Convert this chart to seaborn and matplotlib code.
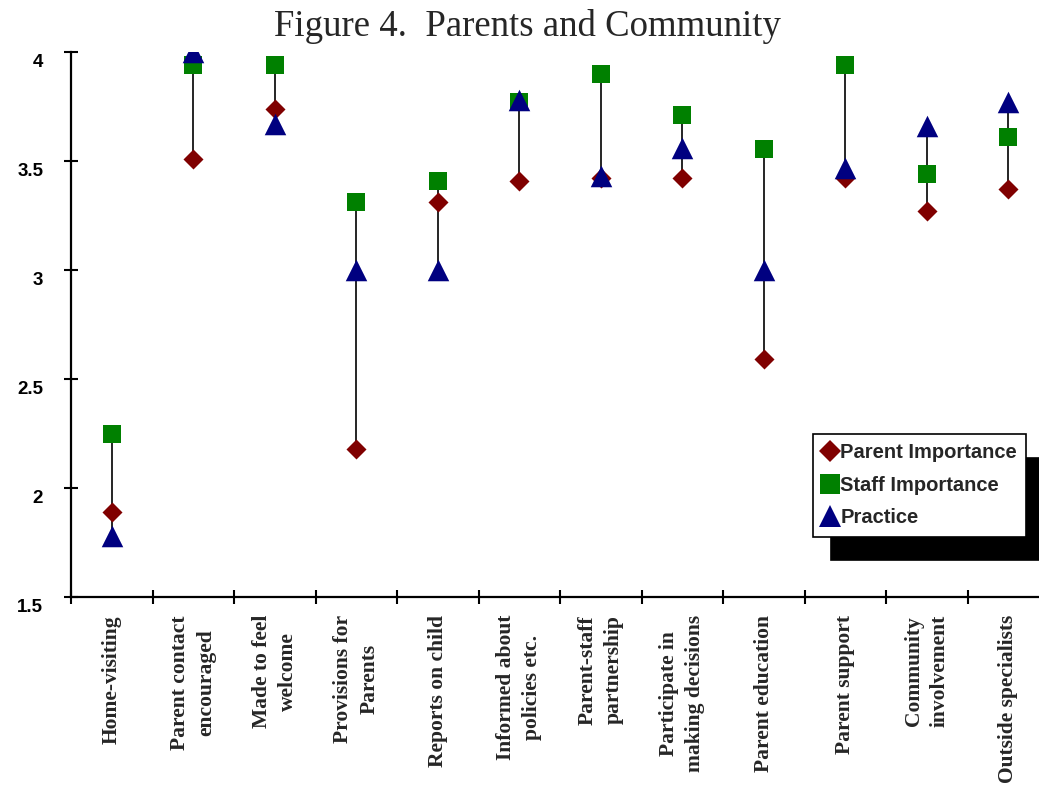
import matplotlib
matplotlib.use("Agg")
import matplotlib.pyplot as plt
from matplotlib.transforms import ScaledTranslation
import numpy as np
import pandas as pd
import seaborn as sns

categories = [
    "Home-visiting",
    "Parent contact\nencouraged",
    "Made to feel\nwelcome",
    "Provisions for\nParents",
    "Reports on child",
    "Informed about\npolicies etc.",
    "Parent-staff\npartnership",
    "Participate in\nmaking decisions",
    "Parent education",
    "Parent support",
    "Community\ninvolvement",
    "Outside specialists",
]
parent_importance = [1.89, 3.51, 3.74, 2.18, 3.31, 3.41, 3.42, 3.42, 2.59, 3.42, 3.27, 3.37]
staff_importance = [2.25, 3.94, 3.94, 3.31, 3.41, 3.77, 3.90, 3.71, 3.555, 3.94, 3.44, 3.61]
practice = [1.78, 4.00, 3.67, 3.00, 3.00, 3.78, 3.43, 3.56, 3.00, 3.47, 3.66, 3.77]
series_names = ["Parent Importance", "Staff Importance", "Practice"]
yticks = [1.5, 2, 2.5, 3, 3.5, 4]

sns.set_style("white")
plt.rcParams["font.family"] = ["Liberation Sans", "DejaVu Sans"]
SERIF = ["Liberation Serif", "DejaVu Serif"]

df = pd.DataFrame({
    "pos": np.arange(len(categories)),
    series_names[0]: parent_importance,
    series_names[1]: staff_importance,
    series_names[2]: practice,
})
long = df.melt(id_vars="pos", var_name="series", value_name="score")

fig = plt.figure(figsize=(10.39, 7.85), dpi=100)
ax = fig.add_axes([71 / 1039, 188 / 785, 978 / 1039, 545 / 785])

# high-low connector per category
vals = df[series_names].to_numpy()
ax.vlines(df["pos"], vals.min(axis=1), vals.max(axis=1), color="black", lw=1.2, zorder=1)

styles = {
    "Parent Importance": dict(marker="D", color="#800000", size=10.2),
    "Staff Importance": dict(marker="s", color="#008000", size=13.5),
    "Practice": dict(marker="^", color="#000080", size=15.5),
}
handles = []
for name in series_names:
    st = styles[name]
    sub = long[long["series"] == name]
    sns.scatterplot(data=sub, x="pos", y="score", ax=ax, marker=st["marker"],
                    color=st["color"], s=st["size"] ** 2, linewidth=0, zorder=3,
                    legend=False)
    handles.append(plt.Line2D([], [], ls="none", marker=st["marker"], color=st["color"],
                              markersize=st["size"] * 1.05, markeredgewidth=0, label=name))

ax.set_xlim(-0.5, len(categories) - 0.5)
ax.set_ylim(1.5, 4)
ax.set_xlabel("")
ax.set_ylabel("")

ax.set_yticks(yticks)
ax.set_yticklabels([f"{t:g}" for t in yticks])
ax.tick_params(axis="y", left=True, direction="inout", length=10, width=1.5, pad=15,
               colors="black")

ax.set_xticks(np.arange(len(categories) + 1) - 0.5)
ax.set_xticklabels([])
ax.set_xticks(np.arange(len(categories)), minor=True)
ax.set_xticklabels(categories, minor=True)
ax.tick_params(axis="x", which="major", bottom=True, direction="inout", length=10, width=1.5,
               colors="black")
ax.tick_params(axis="x", which="minor", bottom=True, length=0, pad=13)

shift = ScaledTranslation(0, -6 / 72, fig.dpi_scale_trans)
for lab in ax.get_yticklabels():
    lab.set_fontsize(13.5)
    lab.set_fontweight("bold")
    lab.set_transform(lab.get_transform() + shift)
for lab in ax.get_xticklabels(minor=True):
    lab.set_fontfamily(SERIF)
    lab.set_fontweight("bold")
    lab.set_fontsize(15.5)
    lab.set_rotation(90)
    lab.set_ha("center")
    lab.set_va("top")
    lab.set_linespacing(1.4)

for side in ("top", "right"):
    ax.spines[side].set_visible(False)
for side in ("left", "bottom"):
    ax.spines[side].set_color("black")
    ax.spines[side].set_linewidth(1.6)

leg = ax.legend(handles=handles, loc="upper right",
                bbox_to_anchor=(1026 / 1039, 1 - 434 / 785), bbox_transform=fig.transFigure,
                borderaxespad=0, fancybox=False, framealpha=1, edgecolor="black",
                prop={"weight": "bold", "size": 14.5}, handlelength=0.8, handletextpad=0.1,
                labelspacing=0.68, borderpad=0.45,
                shadow={"ox": 13, "oy": -17, "facecolor": "black", "edgecolor": "black",
                        "alpha": 1})
leg.get_frame().set_linewidth(1.2)

fig.text(527 / 1039, 1 - 27 / 785, "Figure 4.  Parents and Community", ha="center",
         va="center", fontsize=26.5, family=SERIF)

fig.savefig("out.png", dpi=100)
